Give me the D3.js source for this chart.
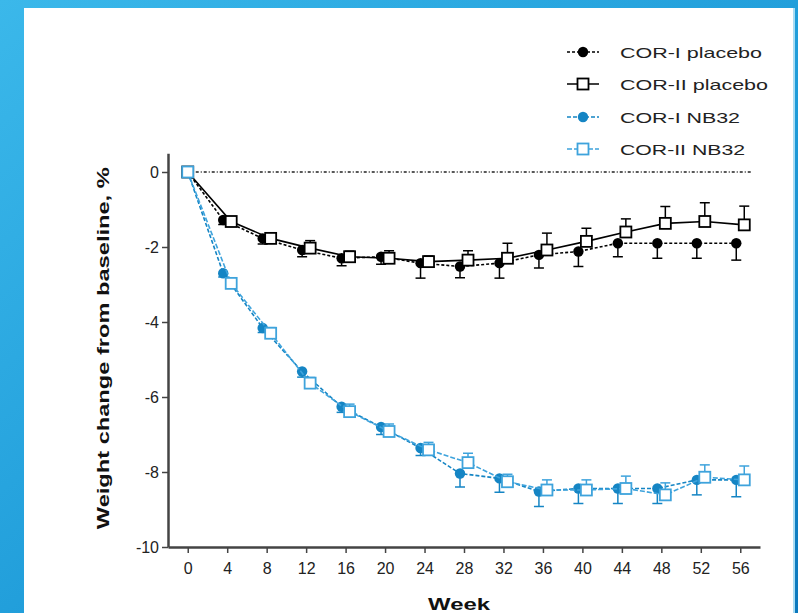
<!DOCTYPE html>
<html>
<head>
<meta charset="utf-8">
<script src="https://cdn.jsdelivr.net/npm/d3@7"></script>
<style>
  html, body { margin: 0; padding: 0; background: #fff; }
  svg { display: block; }
</style>
</head>
<body>
<div id="chart"></div>
<script>
// data
const weeks = [0, 4, 8, 12, 16, 20, 24, 28, 32, 36, 40, 44, 48, 52, 56];
const corIPlacebo   = [0, -1.28, -1.77, -2.08, -2.3, -2.26, -2.43, -2.52, -2.43, -2.21, -2.12, -1.9, -1.9, -1.9, -1.9];
const corIPlaceboSE = [0, 0.12, 0.15, 0.18, 0.2, 0.2, 0.4, 0.3, 0.4, 0.35, 0.4, 0.36, 0.4, 0.4, 0.45];
const corIIPlacebo   = [0, -1.32, -1.77, -2.03, -2.26, -2.3, -2.39, -2.35, -2.3, -2.08, -1.85, -1.6, -1.37, -1.32, -1.41];
const corIIPlaceboSE = [0, 0.1, 0.12, 0.2, 0.15, 0.2, 0.15, 0.25, 0.4, 0.45, 0.35, 0.35, 0.45, 0.5, 0.5];
const corINB32   = [0, -2.7, -4.16, -5.32, -6.26, -6.8, -7.36, -8.04, -8.17, -8.52, -8.44, -8.44, -8.44, -8.21, -8.21];
const corINB32SE = [0, 0.1, 0.12, 0.15, 0.15, 0.2, 0.2, 0.36, 0.37, 0.4, 0.4, 0.4, 0.4, 0.4, 0.45];
const corIINB32   = [0, -2.97, -4.3, -5.63, -6.39, -6.92, -7.41, -7.75, -8.26, -8.48, -8.48, -8.44, -8.61, -8.14, -8.21];
const corIINB32SE = [0, 0.12, 0.15, 0.15, 0.2, 0.2, 0.2, 0.25, 0.2, 0.27, 0.27, 0.33, 0.32, 0.33, 0.37];
const yTicks = [0, -2, -4, -6, -8, -10];
const xTicks = weeks;
const legendNames = ["COR-I placebo", "COR-II placebo", "COR-I NB32", "COR-II NB32"];

const width = 798, height = 613;
const blue = "#1585c4", lightBlue = "#3ea3dc";

// series styling (drawing order: placebo first, NB32 on top)
const series = [
  { name: legendNames[0], vals: corIPlacebo, se: corIPlaceboSE, color: "#000", shape: "circle", dash: "3,2", dx: -4, dir: -1, sw: 1.6 },
  { name: legendNames[1], vals: corIIPlacebo, se: corIIPlaceboSE, color: "#000", shape: "square", dash: null, dx: 4, dir: 1, sw: 1.6 },
  { name: legendNames[2], vals: corINB32, se: corINB32SE, color: blue, shape: "circle", dash: "4,2", dx: -4, dir: -1, sw: 1.6 },
  { name: legendNames[3], vals: corIINB32, se: corIINB32SE, color: lightBlue, shape: "square", dash: "5,2", dx: 4, dir: 1, sw: 1.6 }
];

const svg = d3.select("#chart").append("svg")
  .attr("width", width)
  .attr("height", height);

// blue frame behind the white panel
const defs = svg.append("defs");
const grad = defs.append("linearGradient")
  .attr("id", "frame")
  .attr("x1", "0%").attr("y1", "0%")
  .attr("x2", "100%").attr("y2", "100%");
grad.append("stop").attr("offset", "0%").attr("stop-color", "#3bb8ea");
grad.append("stop").attr("offset", "60%").attr("stop-color", "#1d9ad8");
grad.append("stop").attr("offset", "100%").attr("stop-color", "#0b78bd");

svg.append("rect").attr("width", width).attr("height", height).attr("fill", "url(#frame)");
svg.append("rect")
  .attr("x", 24).attr("y", 8)
  .attr("width", 769).attr("height", height - 8)
  .attr("fill", "#fff");
svg.append("rect")
  .attr("x", 793).attr("y", 8)
  .attr("width", 2).attr("height", height - 8)
  .attr("fill", "#a9dcf3");

const x = d3.scaleLinear().domain([-2, 58]).range([168, 760]);
const y = d3.scaleLinear().domain([-10, 0.5]).range([547, 153.25]);

// axes
const yAxis = svg.append("g")
  .attr("transform", `translate(${x(-2)},0)`)
  .call(d3.axisLeft(y).tickValues(yTicks).tickFormat(d => String(d)).tickSize(6).tickSizeOuter(0));
const xAxis = svg.append("g")
  .attr("transform", `translate(0,${y(-10)})`)
  .call(d3.axisBottom(x).tickValues(xTicks).tickFormat(d => String(d)).tickSize(6).tickSizeOuter(0));

[yAxis, xAxis].forEach(g => {
  g.select(".domain").attr("stroke", "#444").attr("stroke-width", 2.5);
  g.selectAll(".tick line").attr("stroke", "#444").attr("stroke-width", 1.5);
  g.selectAll(".tick text")
    .attr("fill", "#222")
    .style("font-family", "Liberation Sans, Arial, sans-serif")
    .style("font-size", "16px");
});
yAxis.selectAll(".tick text").attr("x", -9);
xAxis.selectAll(".tick text").attr("y", 16);

// reference line at zero
svg.append("line")
  .attr("x1", x(0)).attr("x2", x(57.2))
  .attr("y1", y(0)).attr("y2", y(0))
  .attr("stroke", "#222")
  .attr("stroke-width", 1.5)
  .attr("stroke-dasharray", "3,2,1,2");

// axis titles
svg.append("text")
  .attr("transform", `translate(109,${y(-4.7)}) rotate(-90)`)
  .attr("text-anchor", "middle")
  .attr("textLength", 362)
  .attr("lengthAdjust", "spacingAndGlyphs")
  .style("font-family", "Liberation Sans, Arial, sans-serif")
  .style("font-size", "17px")
  .style("font-weight", "bold")
  .attr("fill", "#111")
  .text("Weight change from baseline, %");

svg.append("text")
  .attr("x", x(27.5)).attr("y", 610)
  .attr("text-anchor", "middle")
  .attr("textLength", 62)
  .attr("lengthAdjust", "spacingAndGlyphs")
  .style("font-family", "Liberation Sans, Arial, sans-serif")
  .style("font-size", "17px")
  .style("font-weight", "bold")
  .attr("fill", "#111")
  .text("Week");

const line = d3.line()
  .x(d => d.px)
  .y(d => y(d.v));

function drawMarker(g, shape, color, cx, cy) {
  if (shape === "circle") {
    g.append("circle")
      .attr("cx", cx).attr("cy", cy).attr("r", 5.2)
      .attr("fill", color);
  } else {
    g.append("rect")
      .attr("x", cx - 5.5).attr("y", cy - 5.5)
      .attr("width", 11).attr("height", 11)
      .attr("fill", "#fff")
      .attr("stroke", color)
      .attr("stroke-width", 1.8);
  }
}

series.forEach(s => {
  const pts = weeks.map((w, i) => ({
    px: x(w) + (i === 0 ? 0 : s.dx),
    v: s.vals[i],
    se: s.se[i]
  }));
  const g = svg.append("g");

  g.append("path")
    .datum(pts)
    .attr("d", line)
    .attr("fill", "none")
    .attr("stroke", s.color)
    .attr("stroke-width", s.sw)
    .attr("stroke-dasharray", s.dash);

  // one-sided error bars
  pts.filter(p => p.se > 0).forEach(p => {
    const yEnd = y(p.v + s.dir * p.se);
    g.append("line")
      .attr("x1", p.px).attr("x2", p.px)
      .attr("y1", y(p.v)).attr("y2", yEnd)
      .attr("stroke", s.color).attr("stroke-width", 1.5);
    g.append("line")
      .attr("x1", p.px - 5).attr("x2", p.px + 5)
      .attr("y1", yEnd).attr("y2", yEnd)
      .attr("stroke", s.color).attr("stroke-width", 1.5);
  });

  pts.forEach(p => drawMarker(g, s.shape, s.color, p.px, y(p.v)));
});

// legend
const legendY = [52, 84, 117, 149];
const legendLen = [142, 148, 120, 125];
series.forEach((s, i) => {
  const g = svg.append("g").attr("transform", `translate(583,${legendY[i]})`);
  g.append("line")
    .attr("x1", -16).attr("x2", 16)
    .attr("stroke", s.color)
    .attr("stroke-width", 1.5)
    .attr("stroke-dasharray", s.dash);
  drawMarker(g, s.shape, s.color, 0, 0);
  g.append("text")
    .attr("x", 37).attr("y", 5.5)
    .attr("textLength", legendLen[i])
    .attr("lengthAdjust", "spacingAndGlyphs")
    .style("font-family", "Liberation Sans, Arial, sans-serif")
    .style("font-size", "15px")
    .attr("fill", "#222")
    .text(s.name);
});
</script>
</body>
</html>
